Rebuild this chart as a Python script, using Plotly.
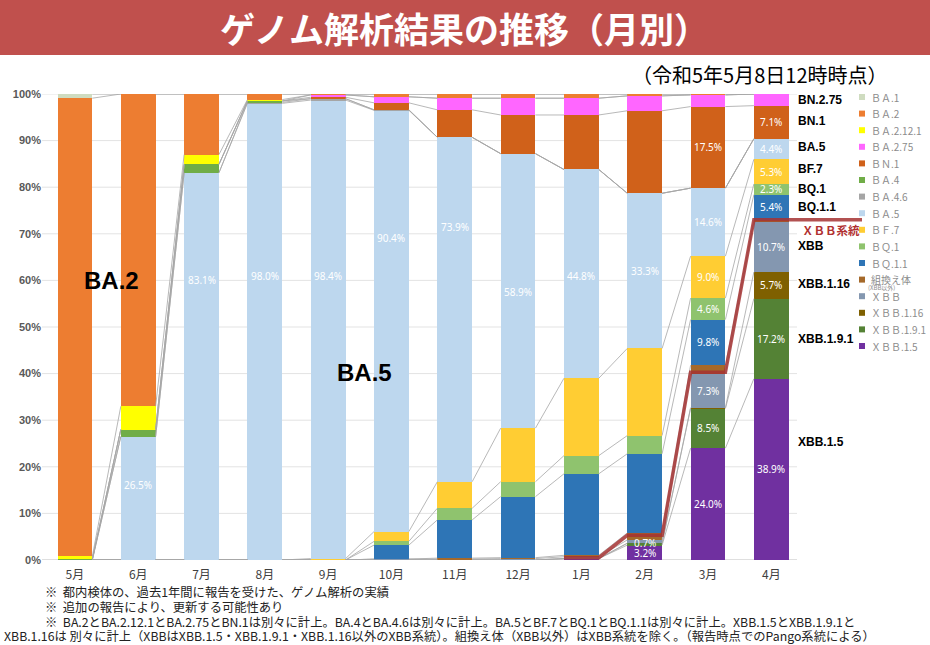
import plotly.graph_objects as go

# 月（令和4年5月～令和5年4月）
months = ["5月", "6月", "7月", "8月", "9月", "10月", "11月", "12月", "1月", "2月", "3月", "4月"]

# 系統別の割合（%）  積み上げ順：下から上
xbb_1_5   = [0, 0, 0, 0, 0, 0, 0, 0, 0.3, 3.2, 24.0, 38.9]
xbb_1_9_1 = [0, 0, 0, 0, 0, 0, 0, 0, 0, 0.4, 8.5, 17.2]
xbb_1_16  = [0, 0, 0, 0, 0, 0, 0, 0, 0, 0, 0.2, 5.7]
xbb       = [0, 0, 0, 0, 0, 0.2, 0.2, 0.3, 0.4, 0.7, 7.3, 10.7]
recomb    = [0, 0, 0, 0, 0, 0, 0.2, 0.2, 0.3, 1.5, 1.8, 0.5]
bq_1_1    = [0, 0, 0, 0, 0, 3.0, 8.2, 13.1, 17.5, 17.0, 9.8, 5.4]
bq_1      = [0, 0, 0, 0, 0, 0.8, 2.5, 3.2, 3.9, 3.9, 4.6, 2.3]
bf_7      = [0, 0, 0, 0, 0.3, 2.1, 5.7, 11.5, 16.6, 18.7, 9.0, 5.3]
ba_5      = [0, 26.5, 83.1, 98.0, 98.4, 90.4, 73.9, 58.9, 44.8, 33.3, 14.6, 4.4]
ba_4_6    = [0, 0, 0, 0.2, 0.3, 0.1, 0, 0, 0, 0, 0, 0]
ba_4      = [0.2, 1.5, 1.8, 0.3, 0, 0, 0, 0, 0, 0, 0, 0]
bn_1      = [0, 0, 0, 0, 0.3, 1.5, 5.9, 8.3, 11.7, 17.7, 17.5, 7.1]
ba_2_75   = [0, 0, 0, 0, 0.5, 1.3, 2.5, 3.6, 3.6, 3.2, 2.5, 2.5]
ba_2_12_1 = [0.6, 5.0, 2.1, 0.3, 0, 0, 0, 0, 0, 0, 0, 0]
ba_2      = [98.3, 67.0, 13.0, 1.2, 0.2, 0.6, 0.9, 0.9, 0.9, 0.4, 0.2, 0]
ba_1      = [0.9, 0, 0, 0, 0, 0, 0, 0, 0, 0, 0, 0]

# XBB系統（赤線）
xbb_lineage = [None, None, None, None, None, None, None, None, 0.5, 5.3, 40.3, 73.0]

series = [
    ("ＸＢＢ.1.5", xbb_1_5), ("ＸＢＢ.1.9.1", xbb_1_9_1), ("ＸＢＢ.1.16", xbb_1_16),
    ("ＸＢＢ", xbb), ("組換え体", recomb), ("ＢＱ.1.1", bq_1_1), ("ＢＱ.1", bq_1),
    ("ＢＦ.7", bf_7), ("ＢＡ.5", ba_5), ("ＢＡ.4.6", ba_4_6), ("ＢＡ.4", ba_4),
    ("ＢＮ.1", bn_1), ("ＢＡ.2.75", ba_2_75), ("ＢＡ.2.12.1", ba_2_12_1),
    ("ＢＡ.2", ba_2), ("ＢＡ.1", ba_1),
]

colors = {
    "ＸＢＢ.1.5": "#7030a0", "ＸＢＢ.1.9.1": "#548235", "ＸＢＢ.1.16": "#7f6000",
    "ＸＢＢ": "#8497b0", "組換え体": "#a5692a", "ＢＱ.1.1": "#2e75b6",
    "ＢＱ.1": "#8fc36e", "ＢＦ.7": "#ffcd33", "ＢＡ.5": "#bdd7ee",
    "ＢＡ.4.6": "#a5a5a5", "ＢＡ.4": "#70ad47", "ＢＮ.1": "#d0611a",
    "ＢＡ.2.75": "#ff66ff", "ＢＡ.2.12.1": "#ffff00", "ＢＡ.2": "#ed7d31",
    "ＢＡ.1": "#cfdcc0",
}

# plot area in page pixels
PL, PR, PT, PB = 42, 865, 94, 560
X0, X1 = -0.52, 12.48
BW = 0.55
half = BW / 2


def px_x(p):
    return (p - PL) / (PR - PL)


def px_y(p):
    return (PB - p) / (PB - PT)


def data_x(p):
    return X0 + (p - PL) / (PR - PL) * (X1 - X0)


xpos = list(range(len(months)))

fig = go.Figure()

# cumulative tops
cum = []
run = [0.0] * len(months)
for name, vals in series:
    base = run[:]
    run = [a + b for a, b in zip(run, vals)]
    cum.append((name, base, run[:]))

for name, vals in series:
    fig.add_trace(go.Bar(
        x=xpos, y=vals, name=name, width=BW, showlegend=False,
        marker=dict(color=colors[name], line=dict(width=0)),
        hoverinfo="skip",
    ))

# series lines (gray) between bars
lx, ly = [], []
for name, base, top in cum:
    for i in range(len(months) - 1):
        lx += [i + half, i + 1 - half, None]
        ly += [top[i], top[i + 1], None]
fig.add_trace(go.Scatter(x=lx, y=ly, mode="lines", showlegend=False, hoverinfo="skip",
                         line=dict(color="#a6a6a6", width=0.8)))

# XBB lineage red line
rx, ry = [], []
for i, v in enumerate(xbb_lineage):
    if v is None:
        continue
    rx += [i - half, i + half]
    ry += [v, v]
rx.append(data_x(862))
ry.append(ry[-1])
fig.add_trace(go.Scatter(x=rx, y=ry, mode="lines", showlegend=False, hoverinfo="skip",
                         line=dict(color="rgba(165,50,50,0.85)", width=3.5)))

# gridlines
grid_right = data_x(797)
for g in range(0, 101, 10):
    fig.add_shape(type="line", xref="x", yref="y", x0=X0, x1=grid_right, y0=g, y1=g,
                  line=dict(color="#bfbfbf" if g == 0 else "#e3e3e3", width=1), layer="below")

annotations = []


def note(x, y, text, size, color, family="Noto Sans CJK JP", xanchor="center", ref="paper"):
    annotations.append(dict(x=x, y=y, xref=ref, yref=ref if ref == "paper" else "y",
                            xanchor=xanchor, yanchor="middle", text=text, showarrow=False,
                            font=dict(family=family, size=size, color=color)))


# data labels
label_names = ["ＸＢＢ.1.5", "ＸＢＢ.1.9.1", "ＸＢＢ.1.16", "ＸＢＢ", "ＢＱ.1.1", "ＢＱ.1", "ＢＦ.7", "ＢＮ.1"]
label_y = {
    ("ＢＡ.5", 1): 16, ("ＢＡ.5", 2): 60, ("ＢＡ.5", 3): 61, ("ＢＡ.5", 4): 61,
    ("ＢＡ.5", 5): 69, ("ＢＡ.5", 6): 71.5, ("ＢＡ.5", 7): 57.5, ("ＢＡ.5", 8): 61,
    ("ＢＡ.5", 9): 62, ("ＸＢＢ.1.5", 9): 1.5, ("ＸＢＢ", 9): 3.7,
}
for (name, base, top), (_, vals) in zip(cum, series):
    for i, v in enumerate(vals):
        show = (name == "ＢＡ.5" and i >= 1) or (name in label_names and i >= 10 and v >= 1) \
            or (name, i) in label_y
        if not show:
            continue
        y = label_y.get((name, i), base[i] + v / 2)
        note(i, y, f"{v:.1f}%", 10, "white", family="Noto Sans", ref="x")

# big labels
for txt, x, y in [("BA.2", 0.58, 59.9), ("BA.5", 4.58, 40.3)]:
    note(x, y, f"<b>{txt}</b>", 24, "black", family="Liberation Sans", ref="x")

# right side labels
right_labels = [("BN.2.75", 98.7), ("BN.1", 94.2), ("BA.5", 88.6), ("BF.7", 83.9),
                ("BQ.1", 79.6), ("BQ.1.1", 75.8), ("XBB", 67.4), ("XBB.1.16", 59.2),
                ("XBB.1.9.1", 47.4), ("XBB.1.5", 25.3)]
for txt, y in right_labels:
    note(data_x(796), y, f"<b>{txt}</b>", 12, "black", family="Liberation Sans",
         xanchor="left", ref="x")
note(data_x(800), 70.8, "<b>ＸＢＢ系統</b>", 11.5, "#b03030", xanchor="left", ref="x")

# legend drawn by hand (narrow column at right edge)
for k, (name, _) in enumerate(reversed(series)):
    yc = 97 + k * 16.6
    fig.add_shape(type="rect", xref="paper", yref="paper",
                  x0=px_x(859), x1=px_x(865), y0=px_y(yc + 3), y1=px_y(yc - 3),
                  fillcolor=colors[name], line=dict(width=0))
    note(px_x(869), px_y(yc), name, 10, "#8c8c8c", xanchor="left")
    if name == "組換え体":
        note(px_x(866), px_y(yc + 8), "(XBB以外)", 6, "#8c8c8c", xanchor="left")

# title banner
fig.add_shape(type="rect", xref="paper", yref="paper", x0=px_x(0), x1=px_x(930),
              y0=px_y(55), y1=px_y(0), fillcolor="#c0504d", line=dict(width=0), layer="above")
note(px_x(465), px_y(27), "<b>ゲノム解析結果の推移（月別）</b>", 35, "white")
note(px_x(890), px_y(75), "（令和5年5月8日12時時点）", 20, "black", xanchor="right")

# footnotes
notes = [
    (43, 592, "※  都内検体の、過去1年間に報告を受けた、ゲノム解析の実績"),
    (43, 607, "※  追加の報告により、更新する可能性あり"),
    (43, 622, "※  BA.2とBA.2.12.1とBA.2.75とBN.1は別々に計上。BA.4とBA.4.6は別々に計上。"
              "BA.5とBF.7とBQ.1とBQ.1.1は別々に計上。XBB.1.5とXBB.1.9.1と"),
    (2, 636, "XBB.1.16は 別々に計上（XBBはXBB.1.5・XBB.1.9.1・XBB.1.16以外のXBB系統）。"
             "組換え体（XBB以外）はXBB系統を除く。（報告時点でのPango系統による）"),
]
for x, y, txt in notes:
    note(px_x(x), px_y(y), txt, 12.3, "#222222", xanchor="left")

yticks = list(range(0, 101, 10))

fig.update_layout(
    width=930, height=645,
    margin=dict(l=PL, r=930 - PR, t=PT, b=645 - PB, autoexpand=False),
    barmode="stack", bargap=0,
    plot_bgcolor="white", paper_bgcolor="white",
    annotations=annotations,
    showlegend=False,
    xaxis=dict(range=[X0, X1], tickvals=xpos, ticktext=months, showgrid=False,
               zeroline=False, showline=False, ticks="", ticklabelstandoff=6,
               tickfont=dict(family="Noto Sans CJK JP", size=12, color="#404040")),
    yaxis=dict(range=[0, 100], tickvals=yticks, ticktext=[f"<b>{v}%</b>" for v in yticks],
               showgrid=False, zeroline=False, showline=False, ticks="",
               tickfont=dict(family="Liberation Sans", size=11, color="#595959")),
    font=dict(family="Noto Sans CJK JP"),
)

fig.write_html("out.html", config={"displayModeBar": False},
               post_script="document.body.style.margin='0';"
                           "document.body.style.overflow='hidden';")
